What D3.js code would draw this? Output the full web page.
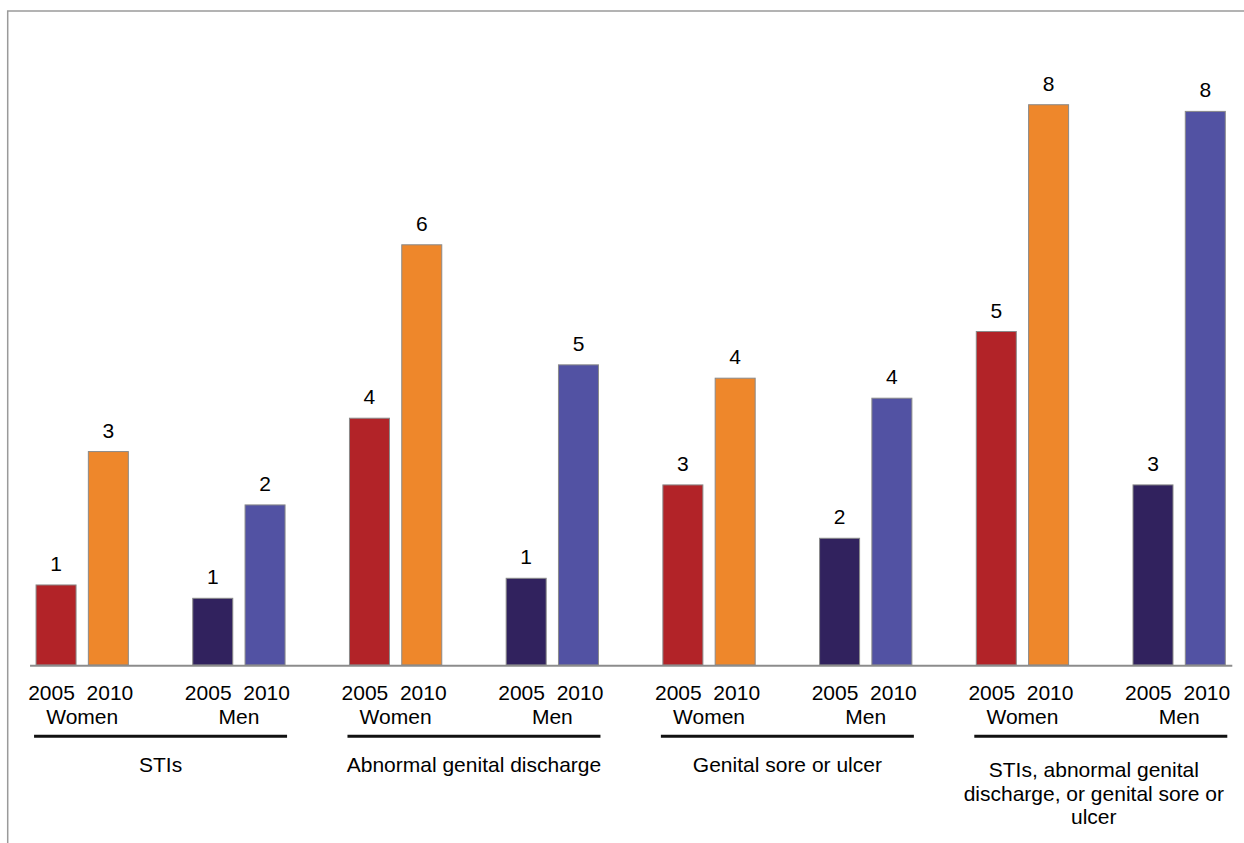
<!DOCTYPE html>
<html>
<head>
<meta charset="utf-8">
<script src="https://cdn.jsdelivr.net/npm/d3@7"></script>
<style>
  html, body { margin: 0; padding: 0; background: #fff; }
  svg { display: block; font-family: "Liberation Sans", Arial, Helvetica, sans-serif; }
  .yrs { white-space: pre; }
</style>
</head>
<body>
<svg id="chart" width="1244" height="843"></svg>
<script>
// Indicator groups, each split into women and men, surveyed in 2005 and 2010
const groups = [
  "STIs",
  "Abnormal genital discharge",
  "Genital sore or ulcer",
  "STIs, abnormal genital discharge, or genital sore or ulcer"
];
const sexes = ["Women", "Men"];
const years = ["2005", "2010"];

// Percentages per group, one array per sex/year series
const women2005 = [1.2, 3.7, 2.7, 5.0];
const women2010 = [3.2, 6.3, 4.3, 8.4];
const men2005   = [1.0, 1.3, 1.9, 2.7];
const men2010   = [2.4, 4.5, 4.0, 8.3];

const seriesColors = {
  "Women|2005": "#b22328",
  "Women|2010": "#ee872b",
  "Men|2005":   "#31225e",
  "Men|2010":   "#5252a3"
};

const series = {
  "Women|2005": women2005,
  "Women|2010": women2010,
  "Men|2005": men2005,
  "Men|2010": men2010
};

// One slot per group/sex pair
const slots = [];
groups.forEach((g, gi) => sexes.forEach(s => slots.push({ key: gi + "|" + s, group: gi, sex: s })));

const bars = [];
slots.forEach(sl => years.forEach(yr => {
  bars.push({ slot: sl.key, sex: sl.sex, year: yr, value: series[sl.sex + "|" + yr][sl.group] });
}));

const svg = d3.select("#chart");
const fontSize = 21;

const x0 = d3.scaleBand().domain(slots.map(d => d.key)).range([3.85, 1257.5]).padding(0);
const pairWidth = 92.3;
const x1 = d3.scaleBand().domain(years).range([0, pairWidth]).paddingInner(0.235).paddingOuter(0);
const y = d3.scaleLinear().domain([0, 9]).range([665, 64.7]);

const slotCenter = k => x0(k) + x0.bandwidth() / 2;
const barX = d => slotCenter(d.slot) - pairWidth / 2 + x1(d.year);

// Frame along the top and left
svg.append("path")
  .attr("d", "M7.7,843V11H1244")
  .attr("fill", "none")
  .attr("stroke", "#9a9a9a")
  .attr("stroke-width", 1.5);

// Bars
svg.append("g").selectAll("rect").data(bars).join("rect")
  .attr("x", barX)
  .attr("y", d => y(d.value))
  .attr("width", x1.bandwidth())
  .attr("height", d => y(0) - y(d.value))
  .attr("fill", d => seriesColors[d.sex + "|" + d.year])
  .attr("stroke", "#8a8a8a")
  .attr("stroke-width", 1);

// Category axis baseline
const firstBar = barX(bars[0]);
const lastBar = barX(bars[bars.length - 1]) + x1.bandwidth();
svg.append("line")
  .attr("x1", firstBar - 6).attr("x2", lastBar + 7)
  .attr("y1", y(0) + 0.7).attr("y2", y(0) + 0.7)
  .attr("stroke", "#8c8c8c")
  .attr("stroke-width", 2);

// Value labels, rounded to whole percent
svg.append("g").selectAll("text").data(bars).join("text")
  .attr("x", d => barX(d) + x1.bandwidth() / 2)
  .attr("y", d => y(d.value) - 14)
  .attr("text-anchor", "middle")
  .attr("font-size", fontSize)
  .attr("fill", "#000")
  .text(d => Math.round(d.value));

// Year pair and sex under each slot
const slotLabels = svg.append("g");
slotLabels.selectAll("text.yrs").data(slots).join("text")
  .attr("class", "yrs")
  .attr("x", d => slotCenter(d.key) - 1.5)
  .attr("y", 700)
  .attr("text-anchor", "middle")
  .attr("font-size", fontSize)
  .text(years.join("  "));
slotLabels.selectAll("text.sex").data(slots).join("text")
  .attr("class", "sex")
  .attr("x", d => slotCenter(d.key))
  .attr("y", 724)
  .attr("text-anchor", "middle")
  .attr("font-size", fontSize)
  .text(d => d.sex);

// Group underline and group name
const groupCenter = gi => (slotCenter(gi + "|Women") + slotCenter(gi + "|Men")) / 2;
const gLayer = svg.append("g");
groups.forEach((name, gi) => {
  const cx = groupCenter(gi);
  gLayer.append("line")
    .attr("x1", cx - 126.5).attr("x2", cx + 126.5)
    .attr("y1", 736.3).attr("y2", 736.3)
    .attr("stroke", "#111")
    .attr("stroke-width", 3);

  // wrap long names into centred lines
  const t = gLayer.append("text")
    .attr("text-anchor", "middle")
    .attr("font-size", fontSize)
    .attr("fill", "#000");
  const words = name.split(" ");
  const lines = [];
  let cur = [];
  const probe = t.append("tspan");
  words.forEach(w => {
    const trial = cur.concat(w).join(" ");
    probe.text(trial);
    if (probe.node().getComputedTextLength() > 265 && cur.length) {
      lines.push(cur.join(" "));
      cur = [w];
    } else {
      cur.push(w);
    }
  });
  lines.push(cur.join(" "));
  probe.remove();
  const top = lines.length > 1 ? 777 : 772;
  const lx = lines.length > 1 ? cx - 7 : cx;
  lines.forEach((ln, i) => {
    t.append("tspan")
      .attr("x", lx)
      .attr("y", top + i * 23.5)
      .text(ln);
  });
});
</script>
</body>
</html>
